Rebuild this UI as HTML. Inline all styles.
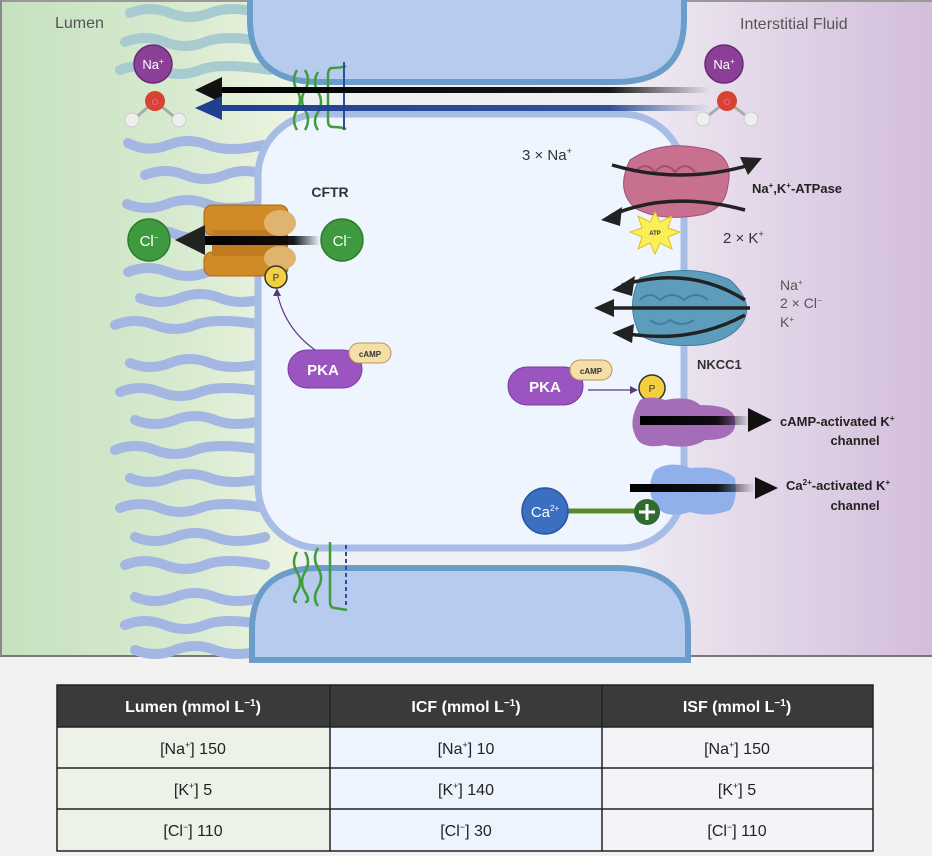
<!DOCTYPE html>
<html><head><meta charset="utf-8"><style>
html,body{margin:0;padding:0;background:#f2f2f2;}
svg{display:block;font-family:"Liberation Sans",sans-serif;}
</style></head><body>
<svg width="932" height="856" viewBox="0 0 932 856" xmlns="http://www.w3.org/2000/svg">
<defs>
<linearGradient id="lum" x1="0" x2="1" y1="0" y2="0">
<stop offset="0" stop-color="#c6e1c0"/><stop offset="0.6" stop-color="#d7eacf"/><stop offset="1" stop-color="#eef5e2"/></linearGradient>
<linearGradient id="isf" x1="0" x2="1" y1="0" y2="0">
<stop offset="0" stop-color="#eee9f2"/><stop offset="1" stop-color="#d3bddb"/></linearGradient>
<linearGradient id="fadeK" x1="0" x2="1"><stop offset="0" stop-color="#000" stop-opacity="1"/><stop offset="0.8" stop-color="#000" stop-opacity="0.9"/><stop offset="1" stop-color="#000" stop-opacity="0"/></linearGradient>
<linearGradient id="fadeB" x1="0" x2="1"><stop offset="0" stop-color="#1f3f8f"/><stop offset="0.8" stop-color="#1f3f8f" stop-opacity="0.9"/><stop offset="1" stop-color="#1f3f8f" stop-opacity="0"/></linearGradient>
<linearGradient id="fadeL" x1="1" x2="0"><stop offset="0" stop-color="#000" stop-opacity="0"/><stop offset="0.3" stop-color="#000" stop-opacity="0.9"/><stop offset="1" stop-color="#000"/></linearGradient>
</defs>
<rect x="0" y="0" width="932" height="657" fill="#f2f2f2"/>
<rect x="0" y="2" width="300" height="654" fill="url(#lum)"/>
<rect x="300" y="2" width="340" height="654" fill="#eef0f4"/>
<rect x="640" y="2" width="292" height="654" fill="url(#isf)"/>
<line x1="0" y1="656" x2="932" y2="656" stroke="#777" stroke-width="2"/>
<line x1="0" y1="1" x2="932" y2="1" stroke="#999" stroke-width="2"/>
<line x1="1" y1="0" x2="1" y2="656" stroke="#888" stroke-width="2"/>

<!-- microvilli top (teal) -->
<g fill="none" stroke="#a8cbcf" stroke-width="10" stroke-linecap="round">
<path d="M130 13 q20 -8 40 0 t40 0 t50 0"/>
<path d="M125 42 q20 -8 40 0 t40 0 t60 0"/>
<path d="M120 70 q20 -8 40 0 t40 0 t70 0"/>
</g>
<!-- microvilli -->
<g fill="none" stroke="#a3b7e2" stroke-width="10" stroke-linecap="round">
<path d="M128 143 q20 10 40 2 t40 0 t55 0"/>
<path d="M145 175 q20 -8 40 0 t40 0 t40 0"/>
<path d="M127 204 q20 8 40 0 t40 0 t55 0"/>
<path d="M135 234 q20 -8 40 0 t40 0 t50 0"/>
<path d="M128 272 q20 -8 40 0 t40 0 t55 0"/>
<path d="M140 298 q20 8 40 0 t40 0 t45 0"/>
<path d="M115 325 q20 -8 40 0 t40 0 t70 0"/>
<path d="M130 363 q20 8 40 0 t40 0 t55 0"/>
<path d="M120 392 q20 -8 40 0 t40 0 t65 0"/>
<path d="M135 420 q20 8 40 0 t40 0 t50 0"/>
<path d="M115 450 q20 -8 40 0 t40 0 t70 0"/>
<path d="M130 478 q20 8 40 0 t40 0 t55 0"/>
<path d="M120 508 q20 -8 40 0 t40 0 t65 0"/>
<path d="M135 537 q20 8 40 0 t40 0 t50 0"/>
<path d="M125 565 q20 -8 40 0 t40 0 t60 0"/>
<path d="M135 597 q20 8 40 0 t40 0 t50 0"/>
<path d="M125 625 q20 -8 40 0 t40 0 t60 0"/>
<path d="M135 650 q20 8 40 0 t40 0 t50 0"/>
</g>

<!-- top cell -->
<path d="M250 -5 L250 20 Q250 82 320 82 L615 82 Q684 82 684 20 L684 -5 Z" fill="#b7cbee" stroke="#6b9dcb" stroke-width="6"/>
<!-- bottom cell -->
<path d="M252 660 L252 630 Q252 568 320 568 L615 568 Q688 568 688 630 L688 660 Z" fill="#b7cbee" stroke="#6b9dcb" stroke-width="6"/>
<!-- central cell -->
<rect x="258" y="114" width="426" height="434" rx="62" fill="#eef5fe" stroke="#a8bde6" stroke-width="7"/>
<rect x="255" y="0" width="0" height="0"/>

<!-- tight junctions -->
<g fill="none" stroke="#3f9c3a" stroke-width="2.5">
<path d="M297 70 q-6 10 0 20 q6 10 0 20 q-6 10 0 20"/>
<path d="M305 70 q6 10 0 20 q-6 10 0 20 q6 10 0 20"/>
<path d="M318 72 q-6 10 0 20 q6 10 0 20 q-6 10 0 18"/>
<path d="M332 68 q-4 0 -4 8 l0 45 q0 6 5 6 M332 68 q8 0 14 -2 M333 127 q8 0 13 2"/>
<path d="M297 552 q-6 10 0 20 q6 10 0 20 q-6 10 0 10"/>
<path d="M305 552 q6 10 0 20 q-6 10 0 20 q6 10 0 10"/>
<path d="M318 548 q-6 10 0 20 q6 10 0 20 q-6 10 0 18"/>
<path d="M330 542 l0 60 q0 6 5 6 l12 2"/>
</g>
<line x1="344" y1="62" x2="344" y2="130" stroke="#2a4f9f" stroke-width="2"/>
<line x1="346" y1="545" x2="346" y2="608" stroke="#2a4f9f" stroke-width="2" stroke-dasharray="4 3"/>

<!-- para arrows -->
<rect x="210" y="87" width="500" height="6" fill="url(#fadeK)"/>
<polygon points="195,90 222,77 222,103" fill="#111"/>
<rect x="210" y="105" width="500" height="6" fill="url(#fadeB)"/>
<polygon points="195,108 222,96 222,120" fill="#1f3f8f"/>

<!-- Na + water left -->
<circle cx="153" cy="64" r="19" fill="#8b3f97" stroke="#6a2a77" stroke-width="1.5"/>
<text x="153" y="69" font-size="13" fill="#fff" text-anchor="middle">Na<tspan font-size="8" dy="-5">+</tspan></text>
<line x1="133" y1="120" x2="155" y2="101" stroke="#aaa" stroke-width="3"/><line x1="178" y1="120" x2="155" y2="101" stroke="#aaa" stroke-width="3"/>
<circle cx="155" cy="101" r="10" fill="#d8432f"/><text x="155" y="105" font-size="8" fill="#f6c" text-anchor="middle">O</text>
<circle cx="132" cy="120" r="7" fill="#eee" stroke="#ccc"/><circle cx="179" cy="120" r="7" fill="#eee" stroke="#ccc"/>
<!-- right -->
<circle cx="724" cy="64" r="19" fill="#8b3f97" stroke="#6a2a77" stroke-width="1.5"/>
<text x="724" y="69" font-size="13" fill="#fff" text-anchor="middle">Na<tspan font-size="8" dy="-5">+</tspan></text>
<line x1="704" y1="119" x2="727" y2="101" stroke="#aaa" stroke-width="3"/><line x1="750" y1="119" x2="727" y2="101" stroke="#aaa" stroke-width="3"/>
<circle cx="727" cy="101" r="10" fill="#d8432f"/><text x="727" y="105" font-size="8" fill="#f6c" text-anchor="middle">O</text>
<circle cx="703" cy="119" r="7" fill="#eee" stroke="#ccc"/><circle cx="751" cy="119" r="7" fill="#eee" stroke="#ccc"/>

<text x="55" y="28" font-size="16" fill="#555">Lumen</text>
<text x="740" y="29" font-size="16" fill="#555">Interstitial Fluid</text>

<!-- CFTR -->
<text x="330" y="197" font-size="14" font-weight="bold" fill="#333" text-anchor="middle">CFTR</text>
<rect x="204" y="205" width="84" height="30" rx="8" fill="#d08a26" stroke="#a86a1a"/>
<rect x="204" y="252" width="84" height="24" rx="8" fill="#d08a26" stroke="#a86a1a"/>
<rect x="212" y="230" width="76" height="26" fill="#c07a20"/>
<ellipse cx="280" cy="223" rx="16" ry="13" fill="#e0b46e"/>
<ellipse cx="280" cy="258" rx="16" ry="12" fill="#e0b46e"/>
<rect x="190" y="236" width="130" height="9" fill="url(#fadeK)"/>
<polygon points="175,240 205,225 205,255" fill="#222"/>
<circle cx="149" cy="240" r="21" fill="#3f9a3f" stroke="#2a7a2a" stroke-width="1.5"/>
<text x="149" y="246" font-size="15" fill="#fff" text-anchor="middle">Cl<tspan font-size="8" dy="-6">−</tspan></text>
<circle cx="342" cy="240" r="21" fill="#3f9a3f" stroke="#2a7a2a" stroke-width="1.5"/>
<text x="342" y="246" font-size="15" fill="#fff" text-anchor="middle">Cl<tspan font-size="8" dy="-6">−</tspan></text>
<circle cx="276" cy="277" r="11" fill="#f4d03f" stroke="#333" stroke-width="1.5"/>
<text x="276" y="281" font-size="10" fill="#333" text-anchor="middle">P</text>
<path d="M318 352 Q285 330 277 292" fill="none" stroke="#5a3a7a" stroke-width="1.2"/>
<polygon points="277,288 273,296 281,296" fill="#5a3a7a"/>
<rect x="288" y="350" width="74" height="38" rx="19" fill="#9a55c0" stroke="#7a3aa0"/>
<text x="323" y="375" font-size="15" font-weight="bold" fill="#fff" text-anchor="middle">PKA</text>
<rect x="349" y="343" width="42" height="20" rx="10" fill="#f4dfa8" stroke="#b8955a"/>
<text x="370" y="357" font-size="8" font-weight="bold" fill="#333" text-anchor="middle">cAMP</text>

<!-- Na/K ATPase -->
<text x="522" y="160" font-size="15" fill="#333">3 × Na<tspan font-size="9" dy="-6">+</tspan></text>
<path d="M630 160 Q660 140 700 148 Q735 152 728 185 Q725 210 700 215 Q660 222 635 208 Q615 190 630 160Z" fill="#c8708f" stroke="#a25070"/>
<path d="M635 172 q10 -12 20 0 q10 -12 20 0 q10 -12 20 0" fill="none" stroke="#a25070" stroke-width="2"/>
<path d="M612 165 Q680 185 750 165" fill="none" stroke="#222" stroke-width="3.5"/>
<polygon points="762,158 740,157 748,175" fill="#222"/>
<path d="M745 210 Q670 190 612 215" fill="none" stroke="#222" stroke-width="3.5"/>
<polygon points="601,220 622,207 620,226" fill="#222"/>
<polygon points="655,212 660,222 672,216 668,228 680,232 668,237 672,249 660,243 655,254 650,243 638,249 642,237 630,232 642,228 638,216 650,222" fill="#fbef58" stroke="#e0c020"/>
<text x="655" y="235" font-size="6" font-weight="bold" fill="#333" text-anchor="middle">ATP</text>
<text x="752" y="193" font-size="13" font-weight="bold" fill="#222">Na<tspan font-size="8" dy="-5">+</tspan><tspan dy="5">,K</tspan><tspan font-size="8" dy="-5">+</tspan><tspan dy="5">-ATPase</tspan></text>
<text x="723" y="243" font-size="15" fill="#333">2 × K<tspan font-size="9" dy="-6">+</tspan></text>

<!-- NKCC1 -->
<path d="M640 278 Q690 262 730 280 Q752 300 745 318 Q735 340 700 345 Q660 348 640 335 Q625 305 640 278Z" fill="#5d9dbb" stroke="#3e7f9f"/>
<path d="M640 300 q10 -10 20 0 q12 -10 24 0 q12 -10 24 0 M650 320 q10 8 20 0 q12 8 24 0" fill="none" stroke="#3e7f9f" stroke-width="2"/>
<path d="M745 300 Q690 265 622 285" fill="none" stroke="#222" stroke-width="3.5"/>
<polygon points="612,290 635,276 632,296" fill="#222"/>
<line x1="750" y1="308" x2="608" y2="308" stroke="#222" stroke-width="3.5"/>
<polygon points="594,308 614,299 614,317" fill="#222"/>
<path d="M745 315 Q690 345 622 333" fill="none" stroke="#222" stroke-width="3.5"/>
<polygon points="612,333 634,324 632,343" fill="#222"/>
<text x="780" y="290" font-size="14" fill="#555">Na<tspan font-size="8" dy="-5">+</tspan></text>
<text x="780" y="308" font-size="14" fill="#555">2 × Cl<tspan font-size="8" dy="-5">−</tspan></text>
<text x="780" y="327" font-size="14" fill="#555">K<tspan font-size="8" dy="-5">+</tspan></text>
<text x="697" y="369" font-size="13" font-weight="bold" fill="#333">NKCC1</text>

<!-- right PKA -->
<rect x="508" y="367" width="75" height="38" rx="19" fill="#9a55c0" stroke="#7a3aa0"/>
<text x="545" y="392" font-size="15" font-weight="bold" fill="#fff" text-anchor="middle">PKA</text>
<rect x="570" y="360" width="42" height="20" rx="10" fill="#f4dfa8" stroke="#b8955a"/>
<text x="591" y="374" font-size="8" font-weight="bold" fill="#333" text-anchor="middle">cAMP</text>
<line x1="588" y1="390" x2="632" y2="390" stroke="#5a3a7a" stroke-width="1.2"/>
<polygon points="638,390 630,386 630,394" fill="#5a3a7a"/>
<circle cx="652" cy="388" r="13" fill="#f4d03f" stroke="#333" stroke-width="1.5"/>
<text x="652" y="392" font-size="10" fill="#333" text-anchor="middle">P</text>
<path d="M640 400 Q650 395 665 400 Q690 395 700 405 Q735 405 735 420 Q738 440 705 440 Q690 450 665 445 Q640 450 635 435 Q628 420 640 400Z" fill="#a56db8"/>
<rect x="640" y="416" width="110" height="9" fill="url(#fadeL)"/>
<polygon points="772,420 748,408 748,432" fill="#111"/>
<text x="780" y="426" font-size="13" font-weight="bold" fill="#222">cAMP-activated K<tspan font-size="8" dy="-5">+</tspan></text>
<text x="855" y="445" font-size="13" font-weight="bold" fill="#222" text-anchor="middle">channel</text>

<!-- Ca channel -->
<path d="M655 470 Q670 460 690 468 Q720 465 735 478 Q738 500 730 510 Q710 518 690 512 Q665 520 655 505 Q645 488 655 470Z" fill="#8fb0ea"/>
<rect x="630" y="484" width="125" height="8" fill="url(#fadeL)"/>
<polygon points="778,488 755,477 755,499" fill="#111"/>
<text x="786" y="490" font-size="13" font-weight="bold" fill="#222">Ca<tspan font-size="8" dy="-5">2+</tspan><tspan dy="5">-activated K</tspan><tspan font-size="8" dy="-5">+</tspan></text>
<text x="855" y="510" font-size="13" font-weight="bold" fill="#222" text-anchor="middle">channel</text>
<line x1="565" y1="511" x2="635" y2="511" stroke="#5a8a2a" stroke-width="5"/>
<circle cx="545" cy="511" r="23" fill="#3b6fc2" stroke="#2a55a0" stroke-width="1.5"/>
<text x="545" y="517" font-size="15" fill="#fff" text-anchor="middle">Ca<tspan font-size="8" dy="-6">2+</tspan></text>
<circle cx="647" cy="512" r="13" fill="#2f6a2f"/>
<path d="M647 504 v16 M639 512 h16" stroke="#fff" stroke-width="3"/>

<!-- table -->
<g font-family="'Liberation Sans Narrow','Liberation Sans',sans-serif" font-size="16" text-anchor="middle" fill="#222">
<rect x="57" y="685" width="816" height="42" fill="#3a3a3a"/>
<rect x="57" y="727" width="273" height="124" fill="#edf2e9"/>
<rect x="330" y="727" width="272" height="124" fill="#edf4fd"/>
<rect x="602" y="727" width="271" height="124" fill="#f6f3f8"/>
<g stroke="#222" stroke-width="1.5" fill="none">
<rect x="57" y="685" width="816" height="166"/>
<line x1="330" y1="685" x2="330" y2="851"/><line x1="602" y1="685" x2="602" y2="851"/>
<line x1="57" y1="727" x2="873" y2="727"/><line x1="57" y1="768" x2="873" y2="768"/><line x1="57" y1="809" x2="873" y2="809"/>
</g>
<g fill="#fff" font-weight="bold">
<text x="193" y="712">Lumen (mmol L<tspan font-size="10" dy="-6">−1</tspan><tspan dy="6">)</tspan></text>
<text x="466" y="712">ICF (mmol L<tspan font-size="10" dy="-6">−1</tspan><tspan dy="6">)</tspan></text>
<text x="737" y="712">ISF (mmol L<tspan font-size="10" dy="-6">−1</tspan><tspan dy="6">)</tspan></text>
</g>
<text x="193" y="754">[Na<tspan font-size="9" dy="-6">+</tspan><tspan dy="6">] 150</tspan></text>
<text x="466" y="754">[Na<tspan font-size="9" dy="-6">+</tspan><tspan dy="6">] 10</tspan></text>
<text x="737" y="754">[Na<tspan font-size="9" dy="-6">+</tspan><tspan dy="6">] 150</tspan></text>
<text x="193" y="795">[K<tspan font-size="9" dy="-6">+</tspan><tspan dy="6">] 5</tspan></text>
<text x="466" y="795">[K<tspan font-size="9" dy="-6">+</tspan><tspan dy="6">] 140</tspan></text>
<text x="737" y="795">[K<tspan font-size="9" dy="-6">+</tspan><tspan dy="6">] 5</tspan></text>
<text x="193" y="836">[Cl<tspan font-size="9" dy="-6">−</tspan><tspan dy="6">] 110</tspan></text>
<text x="466" y="836">[Cl<tspan font-size="9" dy="-6">−</tspan><tspan dy="6">] 30</tspan></text>
<text x="737" y="836">[Cl<tspan font-size="9" dy="-6">−</tspan><tspan dy="6">] 110</tspan></text>
</g>
</svg>
</body></html>
